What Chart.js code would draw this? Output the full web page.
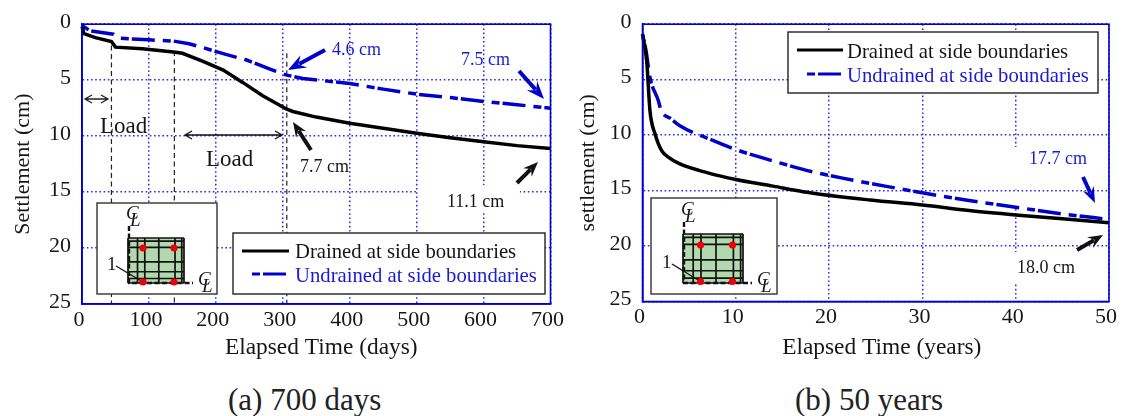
<!DOCTYPE html>
<html><head><meta charset="utf-8">
<script src="https://cdn.jsdelivr.net/npm/chart.js@4"></script>
<style>
html,body{margin:0;padding:0;background:#fff;overflow:hidden}
canvas{display:block}
.cap{position:absolute;top:382px;font:31px "Liberation Serif",serif;color:#222;white-space:nowrap}
</style></head><body>
<div style="position:absolute;left:0;top:0;width:570px;height:365px"><canvas id="a"></canvas></div>
<div style="position:absolute;left:570px;top:0;width:553px;height:365px"><canvas id="b"></canvas></div>
<div class="cap" style="left:228px">(a) 700 days</div>
<div class="cap" style="left:795px">(b) 50 years</div>
<script>
const daysDrained=[[0,0.2],[3,0.85],[20,1.2],[44,1.55],[50,2.05],[90,2.2],[140,2.5],[150,2.6],[180,3.3],[211,4.1],[240,5.2],[270,6.4],[306,7.6],[315,7.8],[350,8.3],[400,8.85],[450,9.3],[500,9.75],[550,10.15],[600,10.5],[650,10.85],[700,11.1]];
const daysUndrained=[[0,0.1],[12,0.6],[47,0.9],[56,1.25],[100,1.4],[136,1.5],[160,1.75],[181,2.1],[215,2.7],[246,3.2],[280,4.0],[306,4.55],[330,4.85],[400,5.3],[450,5.8],[500,6.25],[550,6.55],[600,6.9],[650,7.2],[700,7.5]];
const yearsDrained=[[0,0.9],[0.45,3.3],[0.8,7.8],[1.35,9.9],[2.05,11.4],[2.8,12],[4,12.6],[7,13.4],[10,14],[14,14.6],[17.2,15.1],[24.4,15.85],[30,16.3],[35,16.8],[40,17.2],[45,17.55],[50,17.9]];
const yearsUndrained=[[0,0.9],[0.4,2.5],[0.8,4.8],[1.7,6.9],[2,7.8],[3,8.5],[4,9.15],[7.6,10.5],[10,11.3],[14.7,12.5],[18.7,13.4],[22.2,14],[26,14.6],[30,15.2],[35,15.9],[40,16.5],[45,17.1],[50,17.6]];
const xTicksDays=[0,100,200,300,400,500,600,700];
const xTicksYears=[0,10,20,30,40,50];
const yTicks=[0,5,10,15,20,25];
const loadMarksDays=[44,138,306];
const seriesNames=['Drained at side boundaries','Undrained at side boundaries'];

const SERIF='"Liberation Serif",serif';
const BLUE='#0000cc', GRID='rgb(45,45,225)', INK='#161616';
const DASH=[8,3,23,8];

function text(c,s,x,y,size,col,align,style){
  c.save();c.font=(style?style+' ':'')+size+'px '+SERIF;c.fillStyle=col||INK;
  c.textAlign=align||'left';c.textBaseline='alphabetic';c.fillText(s,x,y);c.restore();
}
function arrow(c,x1,y1,x2,y2,col,w,hl,hw){
  const a=Math.atan2(y2-y1,x2-x1),cs=Math.cos(a),sn=Math.sin(a);
  c.save();c.strokeStyle=col;c.fillStyle=col;c.lineWidth=w;
  c.beginPath();c.moveTo(x1,y1);c.lineTo(x2-cs*hl*.7,y2-sn*hl*.7);c.stroke();
  c.beginPath();c.moveTo(x2,y2);
  c.lineTo(x2-cs*hl-sn*hw,y2-sn*hl+cs*hw);
  c.lineTo(x2-cs*hl*.65,y2-sn*hl*.65);
  c.lineTo(x2-cs*hl+sn*hw,y2-sn*hl-cs*hw);
  c.closePath();c.fill();c.restore();
}
function openArrow(c,x1,y1,x2,y2,col){
  c.save();c.strokeStyle=col;c.lineWidth=1.3;c.beginPath();c.moveTo(x1,y1);c.lineTo(x2,y2);
  for(const [px,d] of [[x1,1],[x2,-1]]){
    c.moveTo(px+d*7,y1-4);c.lineTo(px,y1);c.lineTo(px+d*7,y1+4);
  }
  c.stroke();c.restore();
}
function legendBox(c,x,y,w,h,lx1,lx2,ly1,ly2,tx,by1,by2){
  c.save();c.fillStyle='#fff';c.fillRect(x,y,w,h);c.strokeStyle='#222';c.lineWidth=1.4;c.strokeRect(x,y,w,h);
  c.strokeStyle='#000';c.lineWidth=3.2;c.beginPath();c.moveTo(lx1,ly1);c.lineTo(lx2,ly1);c.stroke();
  c.strokeStyle=BLUE;c.setLineDash([8,3,23,8]);c.beginPath();c.moveTo(lx1+10,ly2);c.lineTo(lx2,ly2);c.stroke();
  c.restore();
  text(c,seriesNames[0],tx,by1,20.7,INK);
  text(c,seriesNames[1],tx,by2,20.7,'#1a1ad0');
}
function inset(c,b,g,dx,dy,oneAt,lineFrom){
  c.save();
  c.fillStyle='#fff';c.fillRect(b[0],b[1],b[2]-b[0],b[3]-b[1]);
  c.strokeStyle='#333';c.lineWidth=1.4;c.strokeRect(b[0],b[1],b[2]-b[0],b[3]-b[1]);
  c.fillStyle='#b2d8ae';c.fillRect(g[0],g[1],g[2]-g[0],g[3]-g[1]);
  c.strokeStyle='#111';c.lineWidth=1.7;c.beginPath();
  const gw=g[2]-g[0],gh=g[3]-g[1];
  for(const f of [0,.17,.3,.55,.84,.96,1]){c.moveTo(g[0]+f*gw,g[1]);c.lineTo(g[0]+f*gw,g[3]);}
  for(const f of [0,.07,.21,.53,.75,.9,1]){c.moveTo(g[0],g[1]+f*gh);c.lineTo(g[2],g[1]+f*gh);}
  c.stroke();
  c.lineWidth=2.4;c.setLineDash([5,2.5]);c.beginPath();
  c.moveTo(g[0]+1,g[1]-12);c.lineTo(g[0]+1,g[3]);c.lineTo(g[2]+9,g[3]);c.stroke();c.setLineDash([]);
  c.lineWidth=1.4;c.beginPath();c.moveTo(lineFrom[0],lineFrom[1]);c.lineTo(dx[0],dy[1]);c.stroke();
  c.fillStyle='#ee0008';
  for(const x of dx)for(const y of dy){c.beginPath();c.arc(x,y,3.6,0,7);c.fill();}
  c.restore();
  text(c,'1',oneAt[0],oneAt[1],19,INK);
  const cl=(x,y)=>{text(c,'C',x,y,19,INK,'left','italic');text(c,'L',x+4,y+7,19,INK,'left','italic');};
  cl(g[0]-2,g[1]-19);
  cl(g[2]+14,g[3]+2);
}
const deco={
 a:{
  under(c,ch){
    const X=ch.scales.x,Y=ch.scales.y;
    c.save();c.fillStyle='#fff';c.fillRect(418,185,102,27);c.fillRect(500,165,38,22);c.restore();
    const tops=[1.9,2.4,2.6];
    c.save();c.strokeStyle='#222';c.lineWidth=1.2;c.setLineDash([5,3.5]);
    loadMarksDays.forEach((d,i)=>{c.beginPath();c.moveTo(X.getPixelForValue(d),Y.getPixelForValue(tops[i]));c.lineTo(X.getPixelForValue(d),Y.bottom);c.stroke();});
    c.restore();
  },
  over(c){
    inset(c,[97,203,217,294],[128,238,184,283],[143,174],[248,282],[107,270],[116,266]);
    legendBox(c,233,233,312,61,242,289,251,274,295,258,282);
    openArrow(c,85,99,108,99,'#222');
    openArrow(c,185,135,282,135,'#111');
    text(c,'Load',100,133,23,INK);
    text(c,'Load',206,166,23,INK);
    arrow(c,325,50,288,70,BLUE,4,18,7);
    text(c,'4.6 cm',332,55,18,'#1a1ad0');
    arrow(c,519,71,544,99,BLUE,4,18,7);
    text(c,'7.5 cm',461,65,18,'#1a1ad0');
    arrow(c,311,150,293,122,'#111',4,15,6);
    text(c,'7.7 cm',300,172,18,INK);
    arrow(c,517,183,538,162,'#111',4,15,6);
    text(c,'11.1 cm',447,207,18,INK);
  }
 },
 b:{
  under(c){
    c.save();c.fillStyle='#fff';c.translate(-570,0);
    c.fillRect(1010,147,70,42);c.fillRect(1012,192,10,14);c.fillRect(1012,252,90,30);c.restore();
  },
  over(c){
    c.save();c.translate(-570,0);
    inset(c,[651,198,777,294],[683,234,743,283],[700.5,732.5],[245,281.5],[662,268],[672,264]);
    legendBox(c,788,32,310,61,797,843,50,74,847,58,82);
    text(c,'17.7 cm',1029,164,18,'#1a1ad0');
    arrow(c,1083,177,1095,203,BLUE,4,16,6);
    arrow(c,1077,250,1103,235,'#111',4,15,6);
    text(c,'18.0 cm',1017,273,18,INK);
    c.restore();
  }
 }
};
function frame(c,a){
  c.save();c.strokeStyle=BLUE;c.lineWidth=1.6;c.strokeRect(a.left,a.top,a.right-a.left,a.bottom-a.top);c.restore();
}
function shiftTitle(s,dx){
  const orig=s.drawTitle;
  s.drawTitle=function(){const c=this.ctx;c.save();c.translate(dx,0);orig.call(this);c.restore();};
}
function make(id,cfg){
  const line=cfg.smooth?{cubicInterpolationMode:'monotone'}:{tension:0};
  new Chart(document.getElementById(id),{
    type:'line',
    data:{datasets:[
      Object.assign({label:seriesNames[0],data:cfg.d.map(p=>({x:p[0],y:p[1]})),borderColor:'#000',borderWidth:3.5,pointRadius:0},line),
      Object.assign({label:seriesNames[1],data:cfg.u.map(p=>({x:p[0],y:p[1]})),borderColor:BLUE,borderWidth:3.5,borderDash:DASH,pointRadius:0},line)
    ]},
    options:{
      responsive:false,animation:false,devicePixelRatio:1,
      layout:{padding:{left:0,top:cfg.top,right:cfg.right,bottom:0}},
      plugins:{legend:{display:false},tooltip:{enabled:false},title:{display:false}},
      clip:false,
      scales:{
        x:{type:'linear',min:0,max:cfg.xmax,
          afterBuildTicks:s=>{s.ticks=cfg.xt.map(v=>({value:v}));},
          afterFit:s=>{s.height=cfg.xh;if(!s._shifted){s._shifted=true;shiftTitle(s,cfg.xdx);}},
          grid:{color:GRID,lineWidth:1.5,drawTicks:false},
          border:{color:BLUE,width:1.6,dash:[1.6,2.6]},
          ticks:{color:INK,font:{family:SERIF,size:22},padding:3,labelOffset:-3,maxRotation:0,autoSkip:false},
          title:{display:true,text:cfg.xTitle,color:INK,font:{family:SERIF,size:23.4},padding:{top:0,bottom:1}}
        },
        y:{type:'linear',min:0,max:25,reverse:true,
          afterBuildTicks:s=>{s.ticks=yTicks.map(v=>({value:v}));},
          afterFit:s=>{s.width=cfg.yw;},
          grid:{color:GRID,lineWidth:1.5,drawTicks:false},
          border:{color:BLUE,width:1.6,dash:[1.6,2.6]},
          ticks:{color:INK,font:{family:SERIF,size:22},padding:11,labelOffset:-2,autoSkip:false},
          title:{display:true,text:cfg.yTitle,color:INK,font:{family:SERIF,size:22},padding:{top:cfg.ytp,bottom:0}}
        }
      }
    },
    plugins:[{id:'deco',
      beforeDatasetsDraw(ch){cfg.deco.under(ch.ctx,ch);},
      afterDatasetsDraw(ch){frame(ch.ctx,ch.chartArea);cfg.deco.over(ch.ctx,ch);}
    }]
  });
}
function size(id,w,h){const e=document.getElementById(id);e.width=w;e.height=h;e.style.width=w+'px';e.style.height=h+'px';}
size('a',570,363);size('b',553,363);
make('a',{d:daysDrained,u:daysUndrained,xmax:700,xt:xTicksDays,xTitle:'Elapsed Time (days)',yTitle:'Settlement (cm)',top:24,right:18.5,xh:59,yw:82,ytp:10,xdx:5,smooth:false,deco:deco.a});
make('b',{d:yearsDrained,u:yearsUndrained,xmax:50,xt:xTicksYears,xTitle:'Elapsed Time (years)',yTitle:'settlement (cm)',top:23,right:14,xh:61.5,yw:72.5,ytp:5,xdx:6,smooth:true,deco:deco.b});
</script>
</body></html>
